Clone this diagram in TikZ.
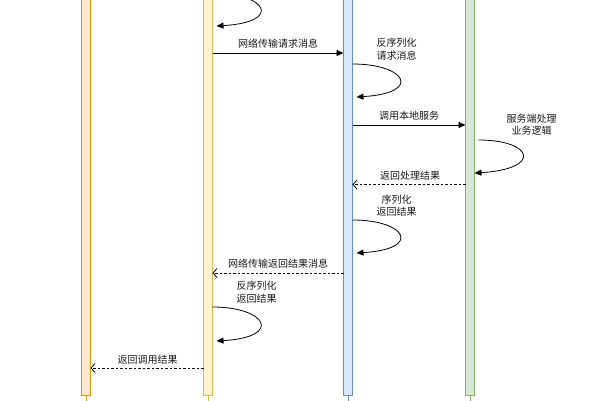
\documentclass[tikz,border=0pt]{standalone}
\usepackage{fontspec}
\newfontfamily\cjk{Noto Sans CJK SC}
\usetikzlibrary{arrows.meta}
\definecolor{oFill}{HTML}{FFE6CC}\definecolor{oLine}{HTML}{D79B00}
\definecolor{yFill}{HTML}{FFF2CC}\definecolor{yLine}{HTML}{D6B656}
\definecolor{bFill}{HTML}{DAE8FC}\definecolor{bLine}{HTML}{6C8EBF}
\definecolor{gFill}{HTML}{D5E8D4}\definecolor{gLine}{HTML}{82B366}
\tikzset{
  bar/.style={draw=#1Line,fill=#1Fill,line width=0.9pt,minimum width=9pt,minimum height=405pt,inner sep=0pt,outer sep=0pt},
  stub/.style={draw=#1Line,line width=0.9pt},
  msg/.style={line width=0.8pt,-{Triangle[length=7pt,width=6pt]}},
  ret/.style={line width=0.8pt,dash pattern=on 2.5pt off 2pt,-{Straight Barb[length=4pt,width=9pt,line width=0.8pt]}},
  selfloop/.style={line width=0.8pt,-{Triangle[length=7pt,width=6pt]}},
  lbl/.style={font=\cjk\fontsize{10}{12.5}\selectfont,align=center,inner sep=0pt,text=black!90}
}
\begin{document}
\begin{tikzpicture}[x=1pt,y=-1pt]
\useasboundingbox (0,0) rectangle (600,400);
% lifeline bars
\node[bar=o] (client) at (86,192.5) {};
\node[bar=y] (cstub) at (208,192.5) {};
\node[bar=b] (sstub) at (348,192.5) {};
\node[bar=g] (server) at (470,192.5) {};
\draw[stub=o] (client.south) -- ++(0,8);
\draw[stub=y] (cstub.south) -- ++(0,8);
\draw[stub=b] (sstub.south) -- ++(0,8);
\draw[stub=g] (server.south) -- ++(0,8);
% top self loop on client stub
\draw[selfloop] (cstub.east |- 0,-7) .. controls +(54,0) and +(67,-4) .. ([xshift=4pt]cstub.east |- 0,26);
% request over network
\draw[msg] (cstub.east |- 0,53) -- (sstub.west |- 0,53);
\node[lbl] (l1) at (278,44) {网络传输请求消息};
% deserialize request
\node[lbl] (l2) at (396.5,49) {反序列化\\请求消息};
\draw[selfloop] (sstub.east |- 0,64) .. controls +(54,0) and +(66,-4) .. ([xshift=4pt]sstub.east |- 0,97);
% call local service
\draw[msg] (sstub.east |- 0,125) -- (server.west |- 0,125);
\node[lbl] (l3) at (409,116) {调用本地服务};
% server business logic
\node[lbl] (l4) at (531.5,124.5) {服务端处理\\业务逻辑};
\draw[selfloop] ([xshift=4pt]server.east |- 0,140) .. controls +(55,0) and +(68,-4) .. (server.east |- 0,173);
% return result
\draw[ret] (server.west |- 0,184.5) -- (sstub.east |- 0,184.5);
\node[lbl] (l5) at (410,176) {返回处理结果};
% serialize result
\node[lbl] (l6) at (396.5,205.5) {序列化\\返回结果};
\draw[selfloop] (sstub.east |- 0,220) .. controls +(54,0) and +(66,-4) .. ([xshift=4pt]sstub.east |- 0,253);
% network return
\draw[ret] (sstub.west |- 0,273) -- (cstub.east |- 0,273);
\node[lbl] (l7) at (278,264) {网络传输返回结果消息};
% deserialize result
\node[lbl] (l8) at (256.5,292) {反序列化\\返回结果};
\draw[selfloop] (cstub.east |- 0,307) .. controls +(54,0) and +(67,-4) .. ([xshift=4pt]cstub.east |- 0,341);
% return call result
\draw[ret] (cstub.west |- 0,368) -- (client.east |- 0,368);
\node[lbl] (l9) at (147.5,360) {返回调用结果};
\end{tikzpicture}
\end{document}
